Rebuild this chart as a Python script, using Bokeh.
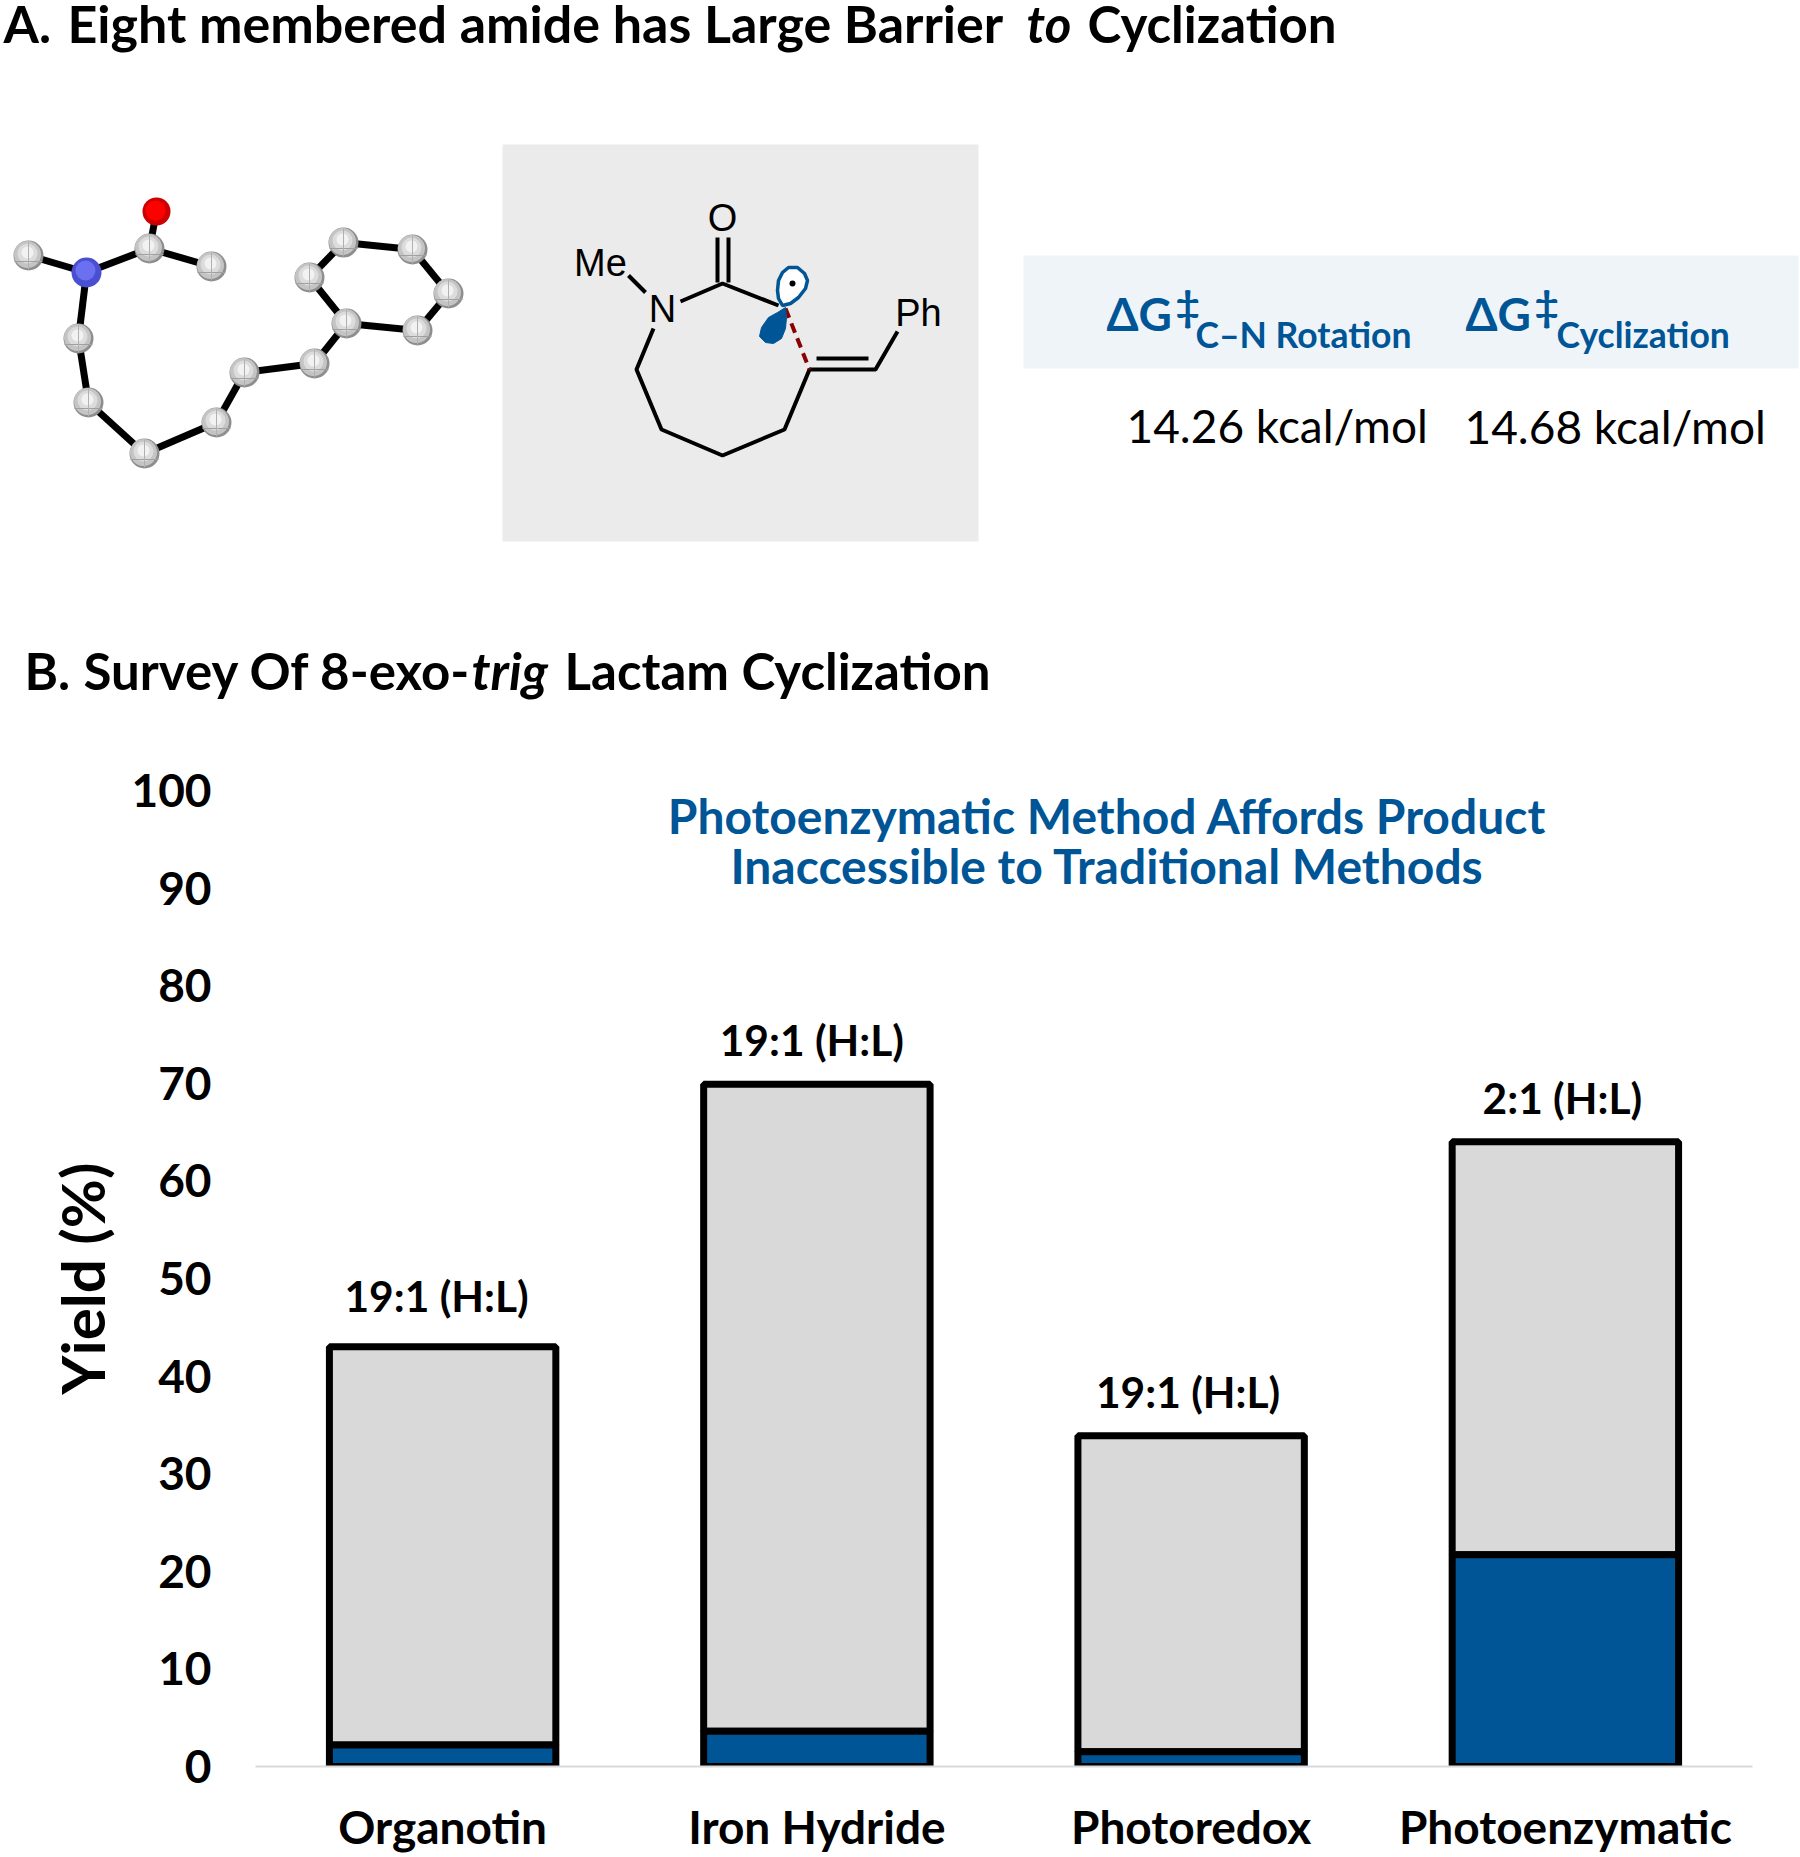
from bokeh.plotting import figure
from bokeh.layouts import column
from bokeh.models import Range1d, FactorRange, ColumnDataSource
from bokeh.core.properties import value
from bokeh.embed import file_html
from bokeh.resources import INLINE

# ---------- chart data ----------
categories = ["Organotin", "Iron Hydride", "Photoredox", "Photoenzymatic"]
blue_yield = [2.2, 3.6, 1.5, 21.7]
total_yield = [43.0, 69.9, 33.9, 64.0]
ratio_labels = ["19:1 (H:L)", "19:1 (H:L)", "19:1 (H:L)", "2:1 (H:L)"]
ratio_dx = [-6, -5, -3, -3]
ratio_dy = [-51, -45, -44, -44]
y_ticks = [0, 10, 20, 30, 40, 50, 60, 70, 80, 90, 100]
caption_lines = ["Photoenzymatic Method Affords Product", "Inaccessible to Traditional Methods"]
caption_y = [97.45, 92.35]

# ---------- panel A: ball-and-stick model (page pixels) ----------
mol_x = [28, 86, 149, 156, 211, 78, 88, 144, 216, 244, 314, 346, 309, 343, 412, 448, 417]
mol_y = [255, 272, 248, 211, 266, 338, 402, 453, 422, 372, 363, 323, 277, 242, 249, 293, 330]
mol_bonds = [(0, 1), (1, 2), (2, 3), (2, 4), (1, 5), (5, 6), (6, 7), (7, 8), (8, 9), (9, 10),
             (10, 11), (11, 12), (12, 13), (13, 14), (14, 15), (15, 16), (16, 11)]
grey_atoms = [0, 2, 4, 5, 6, 7, 8, 9, 10, 11, 12, 13, 14, 15, 16]

# ---------- panel A: skeletal formula (page pixels) ----------
bond_xs = [[653, 636, 661, 722, 784, 809, 875, 897], [680, 722, 778], [717, 717], [728, 728],
           [628, 645], [816, 868]]
bond_ys = [[328, 369, 429, 455, 429, 369, 369, 331], [301, 283, 305], [237, 282], [237, 282],
           [275, 292], [358, 358]]
dash_x = [785, 809]
dash_y = [308, 369]
lobe_up_x = [782, 778, 777, 778, 782, 788, 797, 804, 807, 805, 798, 790, 782]
lobe_up_y = [305, 298, 290, 280, 272, 267, 267, 273, 280, 288, 297, 303, 305]
lobe_dn_x = [785, 786, 785, 781, 773, 765, 759, 761, 768, 777]
lobe_dn_y = [307, 317, 328, 338, 343, 342, 336, 327, 317, 312]
chem_labels = ["O", "Me", "N", "Ph"]
chem_x = [722, 600, 662, 918]
chem_y = [217, 262, 308, 312]

BLUE = "#005596"
FONT = value("Lato")


def label(p, x, y, s, size, color="black", style="bold"):
    # y is the wanted baseline; the browser draws "alphabetic" text lower, so it is lifted
    p.text(x=[x], y=[y - 0.37 * size], text=[s], text_font=FONT, text_font_size=f"{size}px", text_color=color,
           text_font_style=style, text_align="left", text_baseline="alphabetic")


top = figure(width=1800, height=720, x_range=Range1d(0, 1800), y_range=Range1d(720, 0),
             output_backend="svg", toolbar_location=None, min_border=0, frame_align=False)
top.axis.visible = False
top.grid.visible = False
top.outline_line_color = None

# section titles
label(top, 3, 42, "A.", 51)
label(top, 67, 42, "Eight membered amide has Large Barrier", 52)
label(top, 1026, 42, "to", 51, style="bold italic")
label(top, 1087, 42, "Cyclization", 51)
label(top, 24, 689, "B.", 51)
label(top, 83, 689, "Survey Of 8-exo-", 51)
label(top, 471, 689, "trig", 52, style="bold italic")
label(top, 564, 689, "Lactam Cyclization", 51)

# ball-and-stick
top.multi_line(xs=[[mol_x[a], mol_x[b]] for a, b in mol_bonds], ys=[[mol_y[a], mol_y[b]] for a, b in mol_bonds],
               line_color="black", line_width=7)
gx = [mol_x[i] for i in grey_atoms]
gy = [mol_y[i] for i in grey_atoms]
top.circle(x=gx, y=gy, radius=15, fill_color="#8e8e8e", line_color=None)
top.circle(x=[v - 1 for v in gx], y=[v - 1 for v in gy], radius=13.5, fill_color="#c4c4c4", line_color=None)
top.circle(x=[v - 1 for v in gx], y=[v - 2 for v in gy], radius=10, fill_color="#dcdcdc", line_color=None)
top.circle(x=[v - 1 for v in gx], y=[v - 3 for v in gy], radius=6, fill_color="#f2f2f2", line_color=None)
top.segment(x0=[v - 14 for v in gx], x1=[v + 14 for v in gx], y0=[v + 6 for v in gy], y1=[v + 6 for v in gy],
            line_color="#a0a0a0", line_width=1)
top.segment(x0=gx, x1=gx, y0=[v - 14 for v in gy], y1=[v + 14 for v in gy], line_color="#b0b0b0", line_width=1)
top.circle(x=[mol_x[1]], y=[mol_y[1]], radius=15, fill_color="#4a4ed0", line_color=None)
top.circle(x=[mol_x[1] - 1], y=[mol_y[1] - 2], radius=10, fill_color="#6a70f0", line_color=None)
top.circle(x=[mol_x[3]], y=[mol_y[3]], radius=14, fill_color="#cc0000", line_color=None)
top.circle(x=[mol_x[3] - 1], y=[mol_y[3] - 1], radius=10, fill_color="#ff0000", line_color=None)

# skeletal formula box
top.quad(left=[502], right=[978], top=[144], bottom=[541], fill_color="#ebebeb", line_color=None)
top.multi_line(xs=bond_xs, ys=bond_ys, line_color="black", line_width=4)
top.line(dash_x, dash_y, line_color="#8b0000", line_width=4, line_dash="10 6")
top.patch(lobe_up_x, lobe_up_y, fill_color="white", line_color=BLUE, line_width=3.5)
top.patch(lobe_dn_x, lobe_dn_y, fill_color=BLUE, line_color=BLUE, line_width=1)
top.circle(x=[792], y=[283], radius=3, fill_color="black", line_color=None)
top.text(x=chem_x, y=chem_y, text=chem_labels, text_font=value("Liberation Sans"), text_font_size="38px",
         text_color="black", text_align="center", text_baseline="middle")

# barrier table
top.quad(left=[1023], right=[1798], top=[255], bottom=[368], fill_color="#eff4f8", line_color=None)
label(top, 1106, 330, "ΔG", 46, BLUE)
label(top, 1175, 320, "‡", 42, BLUE)
label(top, 1195, 347, "C–N Rotation", 35.5, BLUE)
label(top, 1465, 330, "ΔG", 46, BLUE)
label(top, 1534, 320, "‡", 42, BLUE)
label(top, 1556, 347, "Cyclization", 35.5, BLUE)
label(top, 1126, 442, "14.26 kcal/mol", 46, style="normal")
label(top, 1464, 443, "14.68 kcal/mol", 46, style="normal")

# ---------- panel B: bar chart ----------
chart = figure(width=1800, height=1137, x_range=FactorRange(factors=categories, factor_padding=0, range_padding=0),
               y_range=Range1d(0, 100), output_backend="svg", toolbar_location=None,
               frame_width=1497, frame_height=976, min_border_left=255, min_border_right=48,
               min_border_top=70, min_border_bottom=91, frame_align=False)
chart.grid.visible = False
chart.outline_line_color = None

src = ColumnDataSource(dict(cat=categories, blue=blue_yield, total=total_yield, lab=ratio_labels,
                            dx=ratio_dx, dy=ratio_dy, base=[-2] * len(categories)))
chart.vbar(x="cat", bottom="blue", top="total", width=0.605, source=src, fill_color="#d9d9d9",
           line_color="black", line_width=7)
chart.vbar(x="cat", bottom="base", top="blue", width=0.605, source=src, fill_color=BLUE,
           line_color="black", line_width=7)
chart.text(x="cat", y="total", text="lab", source=src, x_offset="dx", y_offset="dy", text_font=FONT,
           text_font_size="42.5px", text_font_style="bold", text_align="center", text_baseline="middle",
           text_color="black")
chart.text(x=[2.276, 2.276], y=caption_y, text=caption_lines, text_font=FONT, text_font_size="48px",
           text_font_style="bold", text_color=BLUE, text_align="center", text_baseline="middle")

xa = chart.xaxis[0]
xa.axis_line_color = "#d9d9d9"
xa.axis_line_width = 2
xa.major_tick_line_color = None
xa.minor_tick_line_color = None
xa.major_label_text_font = "Lato"
xa.major_label_text_font_size = "46px"
xa.major_label_text_font_style = "bold"
xa.major_label_text_color = "black"
xa.major_label_standoff = 26

ya = chart.yaxis[0]
ya.ticker = y_ticks
ya.axis_line_color = None
ya.major_tick_line_color = None
ya.minor_tick_line_color = None
ya.major_label_text_font = "Lato"
ya.major_label_text_font_size = "46px"
ya.major_label_text_font_style = "bold"
ya.major_label_text_color = "black"
ya.major_label_standoff = 38
ya.axis_label = "Yield (%)"
ya.axis_label_text_font = "Lato"
ya.axis_label_text_font_size = "60px"
ya.axis_label_text_font_style = "bold"
ya.axis_label_text_color = "black"
ya.axis_label_standoff = 10

page = column(top, chart, spacing=0, margin=0)
open("out.html", "w").write(file_html(page, INLINE))
